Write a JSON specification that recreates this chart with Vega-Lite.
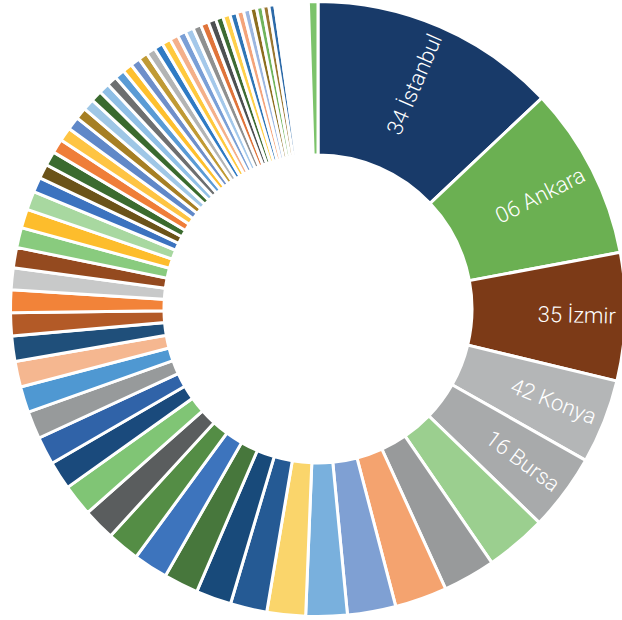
{
  "$schema": "https://vega.github.io/schema/vega-lite/v6.json",
  "autosize": {"type": "none"},
  "width": 608,
  "height": 618,
  "padding": {"left": 14, "top": 0, "right": 0, "bottom": 2},
  "background": "white",
  "view": {"stroke": null},
  "data": {
    "values": [
      {"province": "34 İstanbul", "share": 12.97},
      {"province": "06 Ankara", "share": 9.08},
      {"province": "35 İzmir", "share": 6.72},
      {"province": "42 Konya", "share": 4.42},
      {"province": "16 Bursa", "share": 4.03},
      {"province": "07 Antalya", "share": 3.22},
      {"province": "01 Adana", "share": 2.75},
      {"province": "41 Kocaeli", "share": 2.74},
      {"province": "33 Mersin", "share": 2.54},
      {"province": "27 Gaziantep", "share": 2.17},
      {"province": "20 Denizli", "share": 2.03},
      {"province": "38 Kayseri", "share": 1.92},
      {"province": "26 Eskişehir", "share": 1.86},
      {"province": "55 Samsun", "share": 1.82},
      {"province": "45 Manisa", "share": 1.81},
      {"province": "09 Aydın", "share": 1.71},
      {"province": "10 Balıkesir", "share": 1.69},
      {"province": "31 Hatay", "share": 1.67},
      {"province": "54 Sakarya", "share": 1.49},
      {"province": "48 Muğla", "share": 1.47},
      {"province": "59 Tekirdağ", "share": 1.45},
      {"province": "61 Trabzon", "share": 1.36},
      {"province": "21 Diyarbakır", "share": 1.35},
      {"province": "63 Şanlıurfa", "share": 1.33},
      {"province": "25 Erzurum", "share": 1.21},
      {"province": "44 Malatya", "share": 1.19},
      {"province": "58 Sivas", "share": 1.14},
      {"province": "46 Kahramanmaraş", "share": 1.07},
      {"province": "03 Afyonkarahisar", "share": 1.05},
      {"province": "23 Elazığ", "share": 0.99},
      {"province": "65 Van", "share": 0.98},
      {"province": "52 Ordu", "share": 0.78},
      {"province": "19 Çorum", "share": 0.76},
      {"province": "43 Kütahya", "share": 0.75},
      {"province": "17 Çanakkale", "share": 0.74},
      {"province": "32 Isparta", "share": 0.72},
      {"province": "60 Tokat", "share": 0.69},
      {"province": "67 Zonguldak", "share": 0.61},
      {"province": "47 Mardin", "share": 0.60},
      {"province": "80 Osmaniye", "share": 0.59},
      {"province": "64 Uşak", "share": 0.56},
      {"province": "14 Bolu", "share": 0.54},
      {"province": "22 Edirne", "share": 0.53},
      {"province": "81 Düzce", "share": 0.51},
      {"province": "68 Aksaray", "share": 0.50},
      {"province": "39 Kırklareli", "share": 0.49},
      {"province": "77 Yalova", "share": 0.48},
      {"province": "28 Giresun", "share": 0.47},
      {"province": "72 Batman", "share": 0.46},
      {"province": "53 Rize", "share": 0.45},
      {"province": "66 Yozgat", "share": 0.44},
      {"province": "37 Kastamonu", "share": 0.44},
      {"province": "05 Amasya", "share": 0.43},
      {"province": "50 Nevşehir", "share": 0.42},
      {"province": "51 Niğde", "share": 0.41},
      {"province": "71 Kırıkkale", "share": 0.39},
      {"province": "70 Karaman", "share": 0.38},
      {"province": "15 Burdur", "share": 0.37},
      {"province": "02 Adıyaman", "share": 0.36},
      {"province": "78 Karabük", "share": 0.35},
      {"province": "11 Bilecik", "share": 0.34},
      {"province": "40 Kırşehir", "share": 0.33},
      {"province": "24 Erzincan", "share": 0.32},
      {"province": "57 Sinop", "share": 0.31},
      {"province": "74 Bartın", "share": 0.12},
      {"province": "18 Çankırı", "share": 0.12},
      {"province": "04 Ağrı", "share": 0.12},
      {"province": "56 Siirt", "share": 0.11},
      {"province": "73 Şırnak", "share": 0.11},
      {"province": "36 Kars", "share": 0.11},
      {"province": "49 Muş", "share": 0.11},
      {"province": "13 Bitlis", "share": 0.11},
      {"province": "79 Kilis", "share": 0.11},
      {"province": "08 Artvin", "share": 0.11},
      {"province": "76 Iğdır", "share": 0.11},
      {"province": "12 Bingöl", "share": 0.11},
      {"province": "29 Gümüşhane", "share": 0.10},
      {"province": "30 Hakkari", "share": 0.10},
      {"province": "62 Tunceli", "share": 0.10},
      {"province": "69 Bayburt", "share": 0.10},
      {"province": "75 Ardahan", "share": 0.50}
    ]
  },
  "transform": [
    {"window": [{"op": "row_number", "as": "idx"}]},
    {"joinaggregate": [{"op": "sum", "field": "share", "as": "total"}]},
    {"window": [{"op": "sum", "field": "share", "as": "cum"}], "frame": [null, 0]},
    {"calculate": "(datum.cum - datum.share / 2) / datum.total * 360 - 90", "as": "labelAngle"},
    {"calculate": "datum.idx <= 5 ? datum.province : ''", "as": "label"}
  ],
  "encoding": {
    "theta": {"field": "share", "type": "quantitative", "stack": true},
    "order": {"field": "idx", "type": "quantitative"}
  },
  "layer": [
    {
      "mark": {"type": "arc", "outerRadius": 307.5, "innerRadius": 154, "stroke": "white", "strokeWidth": 3},
      "encoding": {
        "color": {
          "field": "idx",
          "type": "ordinal",
          "legend": null,
          "scale": {
            "range": [
              "#183a69", "#6bb052", "#7c3a17", "#b4b6b7", "#a8aaab", "#9bcf8f", "#989a9b", "#f4a36f", "#7fa0d3", "#79b0dd",
              "#fad56b", "#255a94", "#184a7a", "#47773c", "#3d74bd", "#548d45", "#5a5d5e", "#80c575", "#1a4a7c", "#3063a8",
              "#979a9b", "#4f98d2", "#f5b790", "#1f4f7a", "#b35a27", "#f28339", "#c8c9c9", "#944a1f", "#89cb7e", "#fdbd2c",
              "#a8d8a0", "#3c73bf", "#6b5319", "#3b6b2f", "#ef7e39", "#fec443", "#6088c8", "#a67f24", "#9fc7e6", "#3a6a2e",
              "#8fbfe6", "#6d6f70", "#5a9bd5", "#fec02e", "#6e8fca", "#c09a34", "#b3b4b4", "#2f7bc4", "#ffc93d", "#f4b08a",
              "#7a9fd6", "#a4c8ea", "#8f9090", "#e0743a", "#4d5052", "#3d6b33", "#ffd04a", "#2e75b6", "#f4a47a", "#9bb6e0",
              "#8c6d1f", "#70b45c", "#9a7630", "#2d6aa8", "#a9c9ec", "#ffd38a", "#f4b183", "#9dc3e6", "#c9c9c9", "#f8cbad",
              "#b4c7e7", "#a9d18e", "#ffe699", "#bdd7ee", "#f4b183", "#8faadc", "#c5e0b4", "#ffd966", "#9dc3e6", "#dbdbdb",
              "#7cc36b"
            ]
          }
        },
        "tooltip": [
          {"field": "province", "type": "nominal"},
          {"field": "share", "type": "quantitative"}
        ]
      }
    },
    {
      "mark": {"type": "text", "radius": 298, "align": "right", "baseline": "middle", "font": "Roboto", "fontWeight": 300, "fontSize": 22, "color": "white"},
      "encoding": {
        "text": {"field": "label", "type": "nominal"},
        "angle": {"field": "labelAngle", "type": "quantitative", "scale": null}
      }
    }
  ]
}
